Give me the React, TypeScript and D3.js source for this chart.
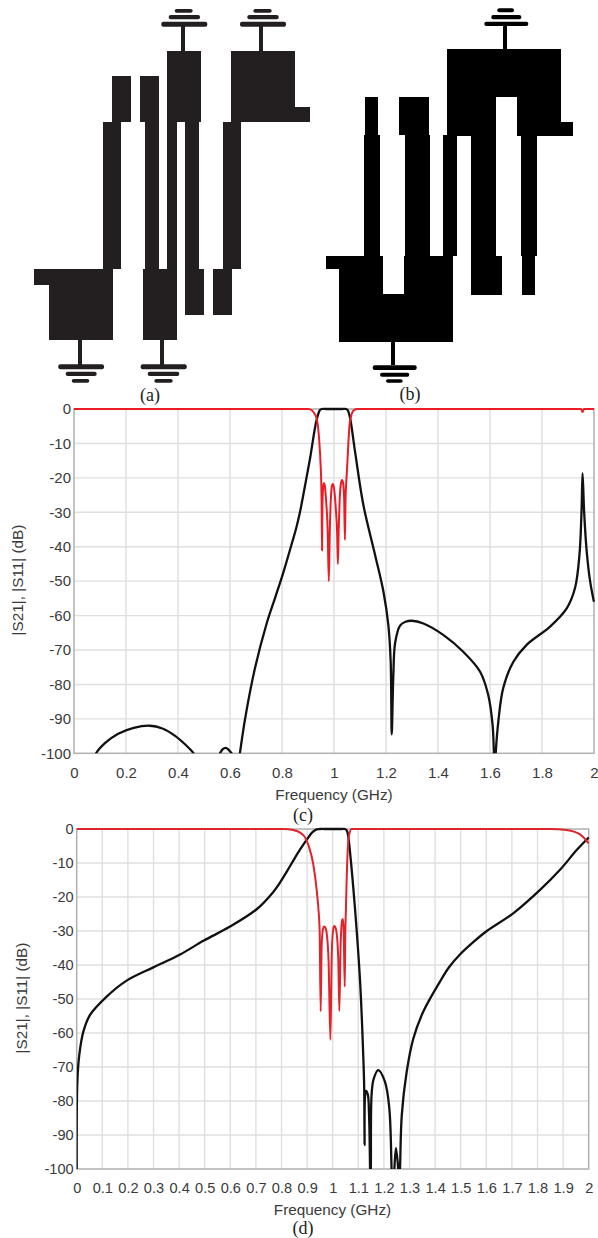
import React, { useEffect, useRef } from "react";
import * as d3 from "d3";

// s-parameter curves: [GHz, dB]
const s21c: [number, number][] = [
  [0.07, -103], [0.085, -100], [0.12, -97], [0.17, -94.3], [0.23, -92.6], [0.292, -92], [0.34, -92.8], [0.39, -95], [0.43, -97.6], [0.46, -100], [0.48, -103],
  [0.548, -103], [0.5615, -100], [0.572, -98.8], [0.583, -98.4], [0.594, -98.9], [0.606, -100], [0.62, -103],
  [0.632, -103], [0.638, -100], [0.658, -90], [0.696, -75.3], [0.741, -62.3], [0.775, -54.5], [0.805, -47.5], [0.84, -38.5], [0.855, -34.5], [0.869, -30], [0.888, -22.5],
  [0.908, -14.3], [0.933, -3.2], [0.946, -0.3], [0.953, 0], [0.97, 0], [1.0, 0], [1.03, 0], [1.047, 0], [1.053, -0.4], [1.0615, -2.5], [1.081, -12.4], [1.113, -27.9],
  [1.158, -42.4], [1.19, -53], [1.209, -62.7], [1.218, -73.4], [1.222, -94.5], [1.228, -78], [1.235, -68], [1.254, -62.9],
  [1.275, -61.8], [1.299, -61.5], [1.344, -62.3], [1.42, -65.6], [1.497, -70.5], [1.562, -76.3], [1.593, -83], [1.61, -91.8], [1.615, -100], [1.617, -104],
  [1.62, -104], [1.622, -100], [1.632, -90.8], [1.651, -81], [1.69, -73.4], [1.741, -68.5], [1.831, -63.2], [1.895, -57.9],
  [1.927, -52], [1.944, -42.4], [1.952, -29.8], [1.956, -18.7], [1.962, -29.8], [1.972, -41.4], [1.985, -50], [1.997, -55], [2, -56],
];
const s11c: [number, number][] = [
  [0, 0], [0.9, 0], [0.908, -0.1], [0.92, -0.8], [0.933, -2.7], [0.942, -8], [0.949, -17], [0.951, -21.5], [0.9525, -28], [0.954, -41], [0.9555, -28],
  [0.958, -23], [0.961, -21.5], [0.964, -22], [0.97, -27], [0.976, -36], [0.98, -50], [0.984, -35], [0.988, -26], [0.992, -22.3], [0.996, -21.8],
  [1, -23], [1.007, -29], [1.012, -36], [1.015, -45], [1.018, -35], [1.022, -26], [1.027, -21.5], [1.031, -20.6], [1.035, -21.5], [1.039, -26],
  [1.042, -38], [1.0445, -26], [1.047, -21.5], [1.049, -19], [1.0615, -3.5], [1.077, -0.3], [1.09, 0], [1.95, 0], [1.956, -0.9], [1.962, 0], [2, 0],
];
const s21d: [number, number][] = [
  [0, -100], [0.0026, -74.3], [0.01, -66.5], [0.026, -59.6], [0.052, -54.7], [0.117, -49.3], [0.195, -44.6], [0.299, -40.7], [0.404, -36.9],
  [0.495, -32.9], [0.599, -28.7], [0.703, -23.6], [0.768, -18.5], [0.794, -15.8], [0.82, -12.6], [0.846, -9.3], [0.872, -6.1], [0.898, -3.2], [0.92, -1], [0.9375, -0.1], [0.95, 0],
  [0.98, 0], [1.01, 0], [1.035, 0], [1.048, 0], [1.056, -0.6], [1.061, -2.3], [1.068, -7], [1.087, -23.3], [1.107, -44.9], [1.12, -68], [1.123, -76], [1.1245, -93],
  [1.126, -79], [1.13, -77], [1.137, -78], [1.142, -84], [1.146, -100], [1.147, -104], [1.1475, -104], [1.149, -100], [1.152, -78], [1.16, -73.5], [1.178, -70.9],
  [1.204, -74.3], [1.221, -82], [1.23, -100], [1.232, -104], [1.239, -104], [1.241, -100], [1.247, -93.9], [1.256, -100], [1.258, -104], [1.261, -104], [1.263, -100],
  [1.27, -84], [1.289, -71.4], [1.315, -61.6], [1.354, -53.7], [1.419, -44.9], [1.455, -40.6], [1.497, -36.9], [1.55, -33.2], [1.602, -30], [1.705, -24.8], [1.81, -17.9], [1.888, -12], [1.953, -6.2], [2, -2.5],
];
const s11d: [number, number][] = [
  [0, 0], [0.807, 0], [0.846, -0.3], [0.885, -1.8], [0.905, -4.7], [0.924, -10.3], [0.9375, -18], [0.944, -23.3], [0.949, -30], [0.953, -53.7], [0.957, -34],
  [0.962, -29.4], [0.966, -28.7], [0.971, -29], [0.977, -31], [0.984, -39], [0.991, -62], [0.996, -38], [1.001, -30], [1.006, -28.5], [1.011, -29],
  [1.016, -31], [1.022, -39], [1.026, -53.5], [1.031, -34], [1.037, -26.8], [1.04, -26.5], [1.043, -30], [1.047, -46.4], [1.049, -32], [1.051, -25.3],
  [1.059, -5.7], [1.064, -1.8], [1.074, 0], [1.849, 0], [1.914, -0.3], [1.966, -1.6], [2, -4.2],
];

const dbTicks = [0, -10, -20, -30, -40, -50, -60, -70, -80, -90, -100];
const freqTicksC = [0, 0.2, 0.4, 0.6, 0.8, 1, 1.2, 1.4, 1.6, 1.8, 2];
const freqTicksD = d3.range(0, 21).map((d) => d / 10);

// layout artwork, [x0, y0, x1, y1] in page pixels
const layoutA = [
  [34, 268.7, 113, 285], [49.3, 268.7, 113, 340], [102.7, 121.7, 121, 269], [112, 76, 131, 122.3],
  [139.7, 76, 158.7, 122.3], [144.7, 122, 158.7, 268.7], [143, 268.7, 177.3, 340], [166.7, 121.7, 177.3, 268.7],
  [166.7, 50.7, 201, 122.3], [185.3, 121.7, 199.3, 268.7], [185.3, 268.7, 204.3, 315], [212.7, 268.7, 231.7, 315],
  [223, 121.7, 240.7, 269.3], [230.7, 50.7, 295, 122.3], [295, 106.7, 310, 122.3],
  [77.7, 340, 81.7, 365], [160, 340, 164, 365], [181, 25, 185.3, 50.7], [259.3, 25, 263.3, 50.7],
];
const layoutB = [
  [326.3, 256, 340, 269.3], [339.3, 256, 383.3, 342.3], [404, 256, 453.3, 342.3], [383.3, 294.3, 404, 342.3],
  [364, 135, 380, 256], [365, 97, 378.3, 135], [404.7, 135, 430, 256], [398.7, 97, 429.3, 135], [442.7, 135, 457.3, 256],
  [447.3, 49.3, 496, 135.7], [517.3, 49.3, 560.7, 135.7], [496, 49.3, 517.3, 97.3], [560.7, 122.3, 572.7, 135.7],
  [470.7, 135.7, 496, 256], [471, 256, 501.7, 295], [521.3, 135.7, 536.7, 256], [522.3, 256, 535.3, 295],
  [391.3, 342.3, 395.3, 365], [503.3, 26, 507.3, 49.3],
];
// ground symbols: three bars, widest nearest the stem
const groundA = [
  [[58.3, 364.3, 104, 369.3], [65.7, 371.7, 96.7, 376], [71.7, 379, 89.3, 382.7]],
  [[140.7, 364.3, 186.7, 369.3], [147.7, 371.7, 179.3, 376], [154.3, 379, 172.7, 382.7]],
  [[161.3, 21.7, 207.3, 26.7], [168.7, 15, 200, 19.3], [174.7, 9, 192.7, 12.7]],
  [[240, 21.7, 286, 26.7], [247.3, 15, 278.7, 19.3], [253.3, 9, 271.7, 12.7]],
];
const groundB = [
  [[372.7, 365.3, 416.7, 370], [380, 372.7, 409.3, 376.7], [386, 379.3, 402.7, 382.7]],
  [[484.3, 21.7, 528.3, 26], [491.3, 15, 521.3, 19.3], [497.3, 8.3, 514, 12.3]],
];

const sans = "'Liberation Sans', Arial, sans-serif";
const serif = "'Liberation Serif', 'Times New Roman', serif";

type PlotProps = {
  id: string; x0: number; x1: number; y0: number; y1: number;
  ticks: number[]; s21: [number, number][]; s11: [number, number][];
  fontSize: number; red: string; xLabelX: number; xLabelY: number; yLabelX: number; yLabelY: number; tickY: number;
};

function Plot(p: PlotProps) {
  const ref = useRef<SVGGElement>(null);
  useEffect(() => {
    const g = d3.select(ref.current);
    g.selectAll("*").remove();
    const x = d3.scaleLinear().domain([0, 2]).range([p.x0, p.x1]);
    const y = d3.scaleLinear().domain([0, -100]).range([p.y0, p.y1]);

    // grid
    g.append("g").selectAll("line").data(p.ticks.slice(1, -1)).join("line")
      .attr("x1", (d) => x(d)).attr("x2", (d) => x(d)).attr("y1", p.y0).attr("y2", p.y1)
      .attr("stroke", "#dfdfe2").attr("stroke-width", 1.4);
    g.append("g").selectAll("line").data(dbTicks.slice(1, -1)).join("line")
      .attr("x1", p.x0).attr("x2", p.x1).attr("y1", (d) => y(d)).attr("y2", (d) => y(d))
      .attr("stroke", "#dfdfdf").attr("stroke-width", 1.4);
    g.append("rect").attr("x", p.x0).attr("y", p.y0).attr("width", p.x1 - p.x0).attr("height", p.y1 - p.y0)
      .attr("fill", "none").attr("stroke", "#b0b0b0").attr("stroke-width", 1.5);

    // axes
    const xAxis = g.append("g").attr("transform", `translate(0,${p.tickY})`)
      .call(d3.axisBottom(x).tickValues(p.ticks).tickSize(0).tickPadding(0).tickFormat((d) => String(d)));
    const yAxis = g.append("g").attr("transform", `translate(${p.x0 - 3},0)`)
      .call(d3.axisLeft(y).tickValues(dbTicks).tickSize(0).tickPadding(0).tickFormat((d) => String(d)));
    xAxis.select(".domain").remove();
    yAxis.select(".domain").remove();
    g.selectAll("text").attr("font-family", sans).attr("font-size", p.fontSize).attr("fill", "#3a3a3a");
    xAxis.selectAll("text").attr("dy", "0.35em").attr("y", 0);

    const clipId = `clip-${p.id}`;
    g.append("clipPath").attr("id", clipId).append("rect")
      .attr("x", p.x0).attr("y", p.y0 - 2).attr("width", p.x1 - p.x0 + 1).attr("height", p.y1 - p.y0 + 2);
    const smooth = d3.line<[number, number]>().x((d) => x(d[0])).y((d) => y(d[1])).curve(d3.curveCatmullRom.alpha(0.5));
    const notched = d3.line<[number, number]>().x((d) => x(d[0])).y((d) => y(d[1])).curve(d3.curveMonotoneX);
    g.append("path").attr("d", smooth(p.s21)).attr("fill", "none").attr("stroke", "#111")
      .attr("stroke-width", 2.3).attr("clip-path", `url(#${clipId})`);
    g.append("path").attr("d", notched(p.s11)).attr("fill", "none").attr("stroke", p.red)
      .attr("stroke-width", 2).attr("clip-path", `url(#${clipId})`);

    g.append("text").attr("x", p.xLabelX).attr("y", p.xLabelY).attr("dy", "0.35em").attr("text-anchor", "middle")
      .attr("font-family", sans).attr("font-size", 15.3).attr("fill", "#3a3a3a").text("Frequency (GHz)");
    g.append("text").attr("transform", `translate(${p.yLabelX},${p.yLabelY}) rotate(-90)`).attr("dy", "0.35em")
      .attr("text-anchor", "middle").attr("font-family", sans).attr("font-size", 15.3).attr("fill", "#3a3a3a")
      .text("|S21|, |S11| (dB)");
  }, []);
  return <g ref={ref} />;
}

const Rects = ({ data, fill, rx = 0 }: { data: number[][]; fill: string; rx?: number }) => (
  <g fill={fill} shapeRendering={rx ? "auto" : "crispEdges"}>
    {data.map((r, i) => (
      <rect key={i} x={r[0]} y={r[1]} width={r[2] - r[0]} height={r[3] - r[1]} rx={rx} />
    ))}
  </g>
);

const Caption = ({ x, y, t }: { x: number; y: number; t: string }) => (
  <text x={x} y={y} dy="0.35em" textAnchor="middle" fontFamily={serif} fontSize={18} fill="#222">{t}</text>
);

export default function App() {
  return (
    <svg width={598} height={1238} style={{ position: "absolute", left: 0, top: 0, background: "#fff" }}>
      <Rects data={layoutA} fill="#231f20" />
      <Rects data={groundA.flat()} fill="#231f20" rx={2} />
      <Rects data={layoutB} fill="#000" />
      <Rects data={groundB.flat()} fill="#000" rx={2} />
      <Caption x={150} y={395} t="(a)" />
      <Caption x={410} y={394} t="(b)" />
      <Plot id="c" x0={74} x1={594} y0={409} y1={753.3} ticks={freqTicksC} s21={s21c} s11={s11c} fontSize={15} red="#ec1c24"
        xLabelX={334} xLabelY={795} yLabelX={18} yLabelY={580} tickY={773} />
      <Caption x={303} y={815} t="(c)" />
      <Plot id="d" x0={76.7} x1={588.7} y0={829} y1={1169} ticks={freqTicksD} s21={s21d} s11={s11d} fontSize={14.6} red="#e0242c"
        xLabelX={332.5} xLabelY={1210} yLabelX={22} yLabelY={998} tickY={1188} />
      <Caption x={303} y={1228} t="(d)" />
    </svg>
  );
}
